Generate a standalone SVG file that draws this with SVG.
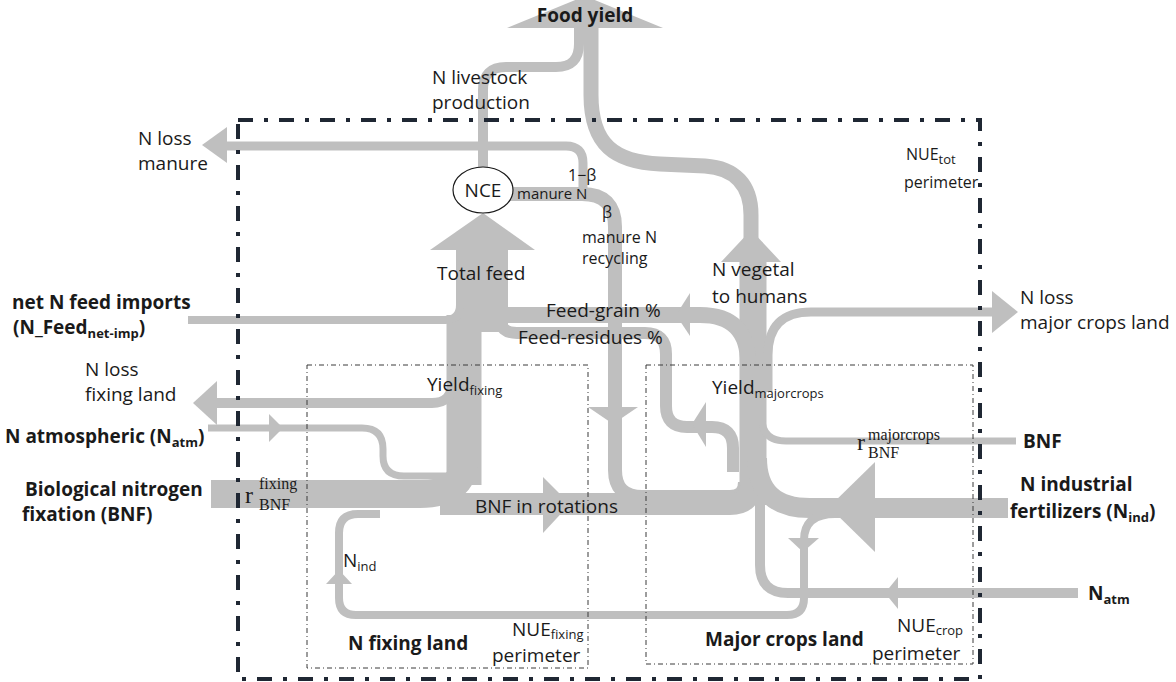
<svg xmlns="http://www.w3.org/2000/svg" width="1176" height="682" viewBox="0 0 1176 682">
<style>
.f{fill:none;stroke:#bfbfbf;stroke-linecap:butt;stroke-linejoin:round}
.h{fill:#bfbfbf}
.t{font-family:"Open Sans","Noto Sans","DejaVu Sans",sans-serif;font-size:19px;fill:#1a1a1a}
.b{font-weight:bold}
.s{font-size:13px}
.m{font-family:"Liberation Serif","DejaVu Serif",serif;fill:#1a1a1a}
.box{fill:none;stroke:#3a3a3a;stroke-width:1;stroke-dasharray:5 3 1 3}
</style>
<rect width="1176" height="682" fill="#ffffff"/>
<g id="connectors">
  <path class="f" stroke-width="10" d="M483 168 V90 Q483 67 506 67 H556 Q579 67 579 44 V24"/>
  <path class="f" stroke-width="15" d="M591 24 V95 C591 145 615 162 660 164 L705 166 C735 168 751 185 751 215 V262"/>
  <polygon class="h" points="507,28 585,-4 663,28"/>
  <path class="f" stroke-width="27" d="M753 255 V505"/>
  <polygon class="h" points="721,262 751,230 781,262"/>
  <path class="f" stroke-width="9" d="M768 392 V355 Q768 312 811 312 H993"/>
  <polygon class="h" points="992,291 1018,312 992,333"/>
  <path class="f" stroke-width="16" d="M470 315 H700 Q748 315 748 363"/>
  <polygon class="h" points="690,293 676,315 690,336"/>
  <path class="f" stroke-width="12" d="M500 318 Q500 333 517 333 H645 Q666 333 666 354 V406 Q666 427 687 427 H712 Q733 427 733 448 V472"/>
  <polygon class="h" points="706,402 692,424 706,447"/>
  <path class="f" stroke-width="52" d="M482 332 V248"/>
  <polygon class="h" points="430,250 483,213 535,250"/>
  <path class="f" stroke-width="35" d="M464 485 V315"/>
  <path class="f" stroke-width="8" d="M188 320 H445 Q460 320 460 305"/>
  <path class="f" stroke-width="14" d="M505 194 H582 Q615 194 615 227 V470 Q615 497 642 497 H730 Q745 497 745 482"/>
  <polygon class="h" points="588,407 638,407 613,424"/>
  <path class="f" stroke-width="9" d="M226 146 H566 Q583 146 583 163 V190"/>
  <polygon class="h" points="227,127 202,145 227,163"/>
  <path class="f" stroke-width="28" d="M211 494 H420 Q464 494 464 460"/>
  <path class="f" stroke-width="22" d="M440 504 H730 Q752 504 752 482"/>
  <polygon class="h" points="543,477 570,504 543,533"/>
  <path class="f" stroke-width="7" d="M208 428 H362 Q383 428 383 449 V456 Q383 476 404 476 H455"/>
  <polygon class="h" points="269,414 283,428 269,442"/>
  <path class="f" stroke-width="10" d="M216 403 H432 Q452 403 452 383"/>
  <polygon class="h" points="217,381 193,403 217,425"/>
  <path class="f" stroke-width="7" d="M1016 441 H786 Q762 441 762 418"/>
  <path class="f" stroke-width="20" d="M1008 508 H810 Q757 508 757 458"/>
  <polygon class="h" points="875,462 829,507 875,552"/>
  <path class="f" stroke-width="10" d="M1078 593 H788 Q760 593 760 565 V500"/>
  <polygon class="h" points="898,577 885,593 898,609"/>
  <path class="f" stroke-width="8" d="M835 514 Q804 514 804 540 V598 Q804 615 787 615 H356 Q339 615 339 598 V533 Q339 514 358 514 H380"/>
  <polygon class="h" points="788,538 819,538 803,552"/>
  <polygon class="h" points="326,584 339,570 352,584"/>
</g>
<g id="perimeter-tot">
  <rect x="238" y="120" width="742" height="559" fill="none" stroke="#1f2733" stroke-width="4" stroke-dasharray="15 11 4 11"/>
  <text class="t" x="906" y="160" style="font-size:16px">NUE<tspan class="s" dy="4">tot</tspan></text>
  <text class="t" x="904" y="188" style="font-size:16px">perimeter</text>
</g>
<g id="fixing-land">
  <rect class="box" x="307" y="365" width="281" height="303"/>
  <text class="t b" x="348" y="650">N fixing land</text>
  <text class="t" x="512" y="636">NUE<tspan class="s" dy="3">fixing</tspan></text>
  <text class="t" x="492" y="662">perimeter</text>
</g>
<g id="major-crops-land">
  <rect class="box" x="646" y="365" width="327" height="299"/>
  <text class="t b" x="705" y="646">Major crops land</text>
  <text class="t" x="897" y="632">NUE<tspan class="s" dy="3">crop</tspan></text>
  <text class="t" x="872" y="660">perimeter</text>
</g>
<g id="NCE">
  <ellipse cx="483" cy="190" rx="30" ry="23" fill="#ffffff" stroke="#1a1a1a" stroke-width="1.2"/>
  <text class="t" x="483" y="197" text-anchor="middle">NCE</text>
</g>
<g id="food-yield"><text class="t b" x="585" y="22" text-anchor="middle">Food yield</text></g>
<g id="livestock"><text class="t" x="432" y="84">N livestock</text><text class="t" x="432" y="109">production</text></g>
<g id="loss-manure"><text class="t" x="138" y="145">N loss</text><text class="t" x="138" y="170">manure</text></g>
<g id="manure">
  <text class="t" x="517" y="199" style="font-size:15px">manure N</text>
  <text class="t" x="568" y="181" style="font-size:16px">1−β</text>
  <text class="t" x="602" y="218" style="font-size:16px">β</text>
  <text class="t" x="582" y="243" style="font-size:16px">manure N</text>
  <text class="t" x="582" y="264" style="font-size:16px">recycling</text>
</g>
<g id="total-feed"><text class="t" x="437" y="280">Total feed</text></g>
<g id="vegetal"><text class="t" x="712" y="276">N vegetal</text><text class="t" x="712" y="303">to humans</text></g>
<g id="feed-imports"><text class="t b" x="12" y="309">net N feed imports</text><text class="t b" x="13" y="334">(N_Feed<tspan class="s" dy="4">net-imp</tspan><tspan dy="-4">)</tspan></text></g>
<g id="feed-shares"><text class="t" x="546" y="317">Feed-grain %</text><text class="t" x="518" y="344">Feed-residues %</text></g>
<g id="loss-crops"><text class="t" x="1020" y="304">N loss</text><text class="t" x="1020" y="329">major crops land</text></g>
<g id="loss-fixing"><text class="t" x="85" y="376">N loss</text><text class="t" x="85" y="401">fixing land</text></g>
<g id="natm-left"><text class="t b" x="5" y="443">N atmospheric (N<tspan class="s" dy="4">atm</tspan><tspan dy="-4">)</tspan></text></g>
<g id="bnf-left">
  <text class="t b" x="25" y="496">Biological nitrogen</text>
  <text class="t b" x="22" y="521">fixation (BNF)</text>
  <text class="m" x="245" y="503" font-size="24">r</text>
  <text class="m" x="259" y="489" font-size="16">fixing</text>
  <text class="m" x="259" y="510" font-size="16">BNF</text>
</g>
<g id="yield-fixing"><text class="t" x="427" y="391">Yield<tspan class="s" dy="4">fixing</tspan></text></g>
<g id="bnf-rotations"><text class="t" x="475" y="513">BNF in rotations</text></g>
<g id="nind-loop"><text class="t" x="343" y="567">N<tspan class="s" dy="4">ind</tspan></text></g>
<g id="yield-major"><text class="t" x="712" y="394">Yield<tspan class="s" dy="4">majorcrops</tspan></text></g>
<g id="bnf-right">
  <text class="m" x="857" y="450" font-size="24">r</text>
  <text class="m" x="868" y="440" font-size="16">majorcrops</text>
  <text class="m" x="868" y="458" font-size="16">BNF</text>
  <text class="t b" x="1023" y="448">BNF</text>
</g>
<g id="nind-right"><text class="t b" x="1020" y="491">N industrial</text><text class="t b" x="1010" y="518">fertilizers (N<tspan class="s" dy="4">ind</tspan><tspan dy="-4">)</tspan></text></g>
<g id="natm-right"><text class="t b" x="1088" y="600">N<tspan class="s" dy="4">atm</tspan></text></g>
</svg>
